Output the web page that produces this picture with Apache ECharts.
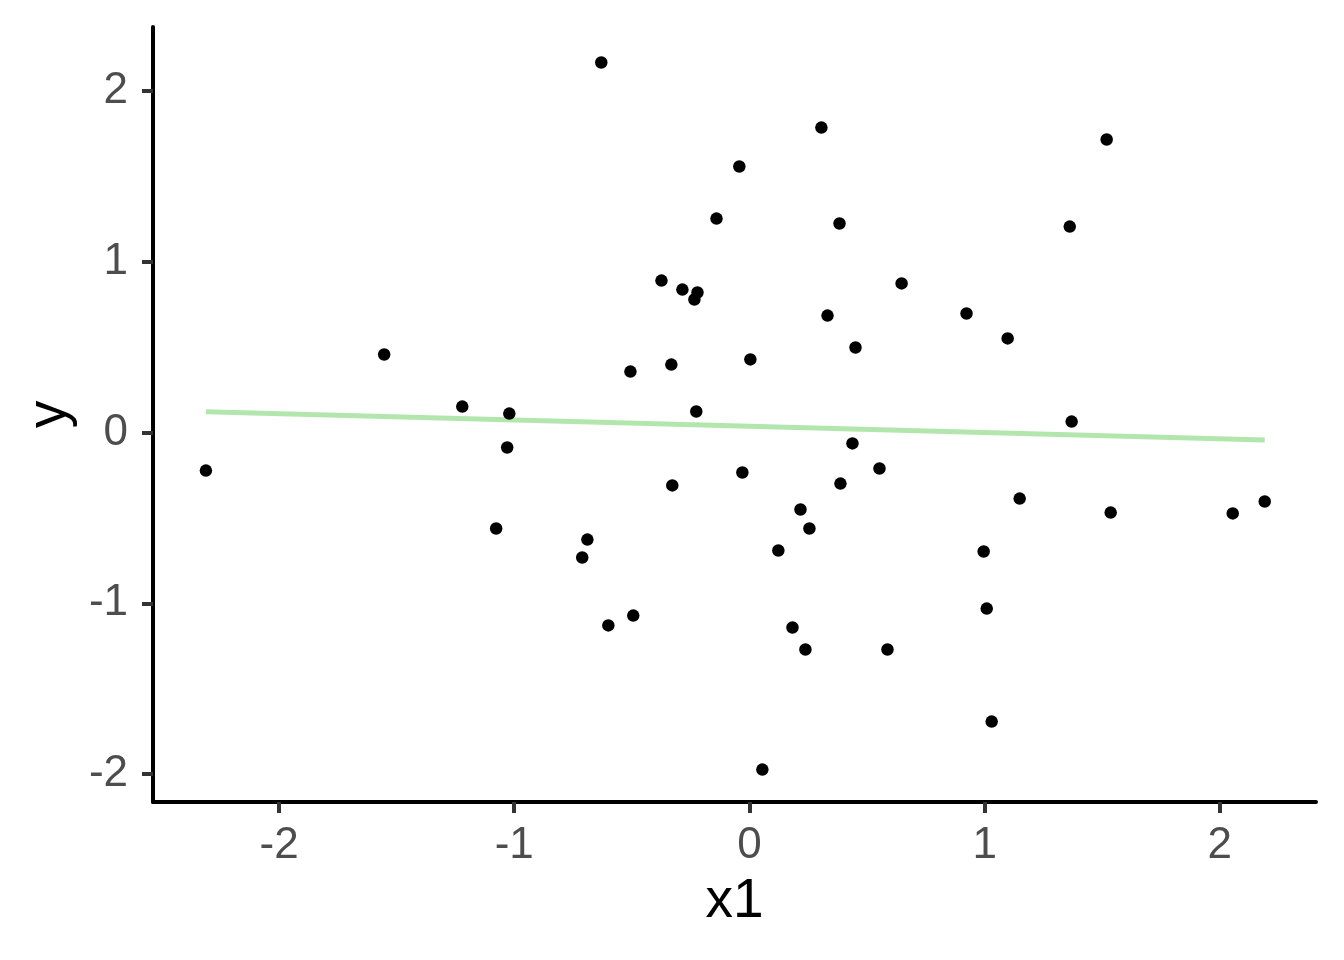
<!DOCTYPE html>
<html>
<head>
<meta charset="utf-8">
<script src="https://cdn.jsdelivr.net/npm/echarts@6/dist/echarts.min.js"></script>
<style>html,body{margin:0;padding:0;background:#fff}#c{width:1344px;height:960px}</style>
</head>
<body>
<div id="c"></div>
<script>
const x1 = [-2.311,-1.553,-1.221,-1.021,-1.030,-1.077,-0.711,-0.689,-0.630,-0.600,
  -0.494,-0.506,-0.374,-0.332,-0.328,-0.285,-0.234,-0.221,-0.226,-0.140,
  -0.043,-0.030,0.004,0.055,0.123,0.183,0.217,0.238,0.255,0.306,
  0.332,0.383,0.387,0.438,0.451,0.553,0.587,0.647,0.923,0.996,
  1.009,1.030,1.098,1.149,1.362,1.370,1.519,1.536,2.055,2.191];
const y = [-0.223,0.457,0.152,0.111,-0.088,-0.562,-0.732,-0.627,2.167,-1.130,
  -1.072,0.357,0.890,0.398,-0.310,0.837,0.779,0.820,0.123,1.253,
  1.558,-0.234,0.428,-1.974,-0.691,-1.142,-0.451,-1.271,-0.562,1.786,
  0.685,1.224,-0.299,-0.064,0.498,-0.211,-1.271,0.873,0.697,-0.697,
  -1.031,-1.693,0.551,-0.387,1.206,0.064,1.716,-0.469,-0.474,-0.404];
const tickValues = [-2,-1,0,1,2];

// least-squares fit (geom_smooth method = "lm")
const n = x1.length;
const mx = x1.reduce((a,b)=>a+b,0)/n, my = y.reduce((a,b)=>a+b,0)/n;
let sxy=0, sxx=0;
for (let i=0;i<n;i++){ sxy += (x1[i]-mx)*(y[i]-my); sxx += (x1[i]-mx)**2; }
const slope = sxy/sxx, intercept = my - slope*mx;
const xmin = Math.min(...x1), xmax = Math.max(...x1);
const fit = [[xmin, intercept+slope*xmin],[xmax, intercept+slope*xmax]];

const FONT = 'Liberation Sans';
const chart = echarts.init(document.getElementById('c'));
chart.setOption({
  animation:false,
  backgroundColor:'#ffffff',
  grid:{left:153,right:28,top:27,bottom:158},
  xAxis:{
    type:'value', min:-2.536, max:2.409,
    name:'x1', nameLocation:'middle', nameGap:72,
    nameTextStyle:{color:'#000',fontSize:55,fontFamily:FONT},
    axisLine:{show:true,onZero:false,lineStyle:{color:'#000',width:4}},
    axisTick:{show:true,length:11,customValues:tickValues,lineStyle:{color:'#333',width:4}},
    axisLabel:{show:true,customValues:tickValues,margin:22,color:'#4d4d4d',fontSize:44,fontFamily:FONT},
    splitLine:{show:false}
  },
  yAxis:{
    type:'value', min:-2.164, max:2.375,
    name:'y', nameLocation:'middle', nameGap:76,
    nameTextStyle:{color:'#000',fontSize:55,fontFamily:FONT},
    axisLine:{show:true,onZero:false,lineStyle:{color:'#000',width:4}},
    axisTick:{show:true,length:11,customValues:tickValues,lineStyle:{color:'#333',width:4}},
    axisLabel:{show:true,customValues:tickValues,margin:25,color:'#4d4d4d',fontSize:44,fontFamily:FONT},
    splitLine:{show:false}
  },
  series:[
    {type:'line', data:fit, symbol:'none', z:1, lineStyle:{color:'#b3e6ac',width:5}},
    {type:'scatter', data:x1.map((v,i)=>[v,y[i]]), symbolSize:12.5, z:2, itemStyle:{color:'#000',opacity:1}}
  ]
});
</script>
</body>
</html>
